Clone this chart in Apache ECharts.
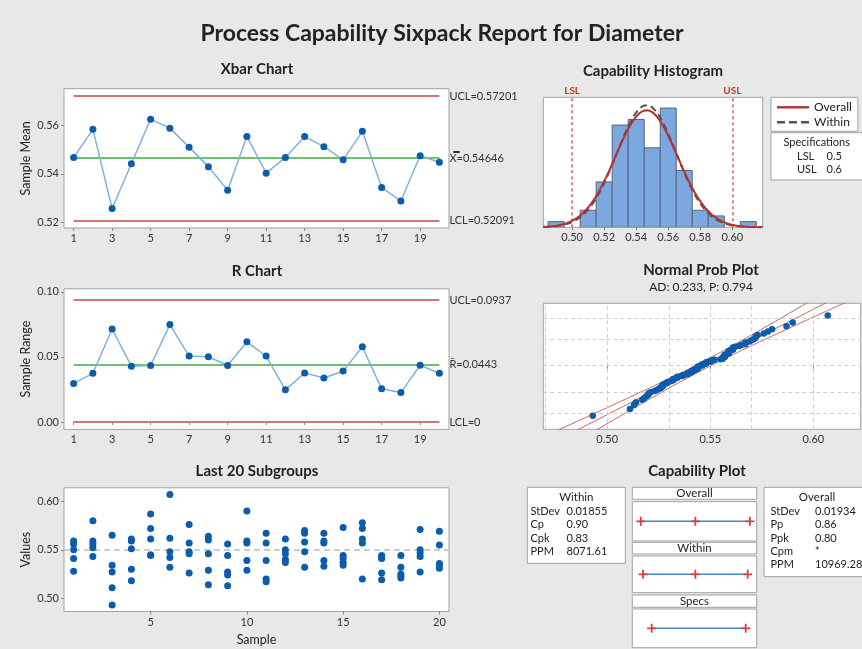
<!DOCTYPE html>
<html><head><meta charset="utf-8">
<script src="https://cdn.jsdelivr.net/npm/echarts@6/dist/echarts.min.js"></script>
<style>html,body{margin:0;padding:0;background:#e8e8e8}#c{width:862px;height:649px}</style>
</head><body><div id="c"></div>
<script>
// ---------- data ----------
const sampleIds = [1,2,3,4,5,6,7,8,9,10,11,12,13,14,15,16,17,18,19,20];
const sampleMeans = [0.5467,0.5583,0.5258,0.5442,0.5625,0.5588,0.5510,0.5430,0.5333,0.5554,0.5403,0.5467,0.5554,0.5512,0.5458,0.5575,0.5344,0.5289,0.5475,0.5448];
const sampleRanges = [0.0296,0.0374,0.0714,0.0429,0.0434,0.0748,0.0506,0.0501,0.0434,0.0616,0.0506,0.0247,0.0377,0.0338,0.0392,0.0577,0.0255,0.0226,0.0436,0.0374];
const xbarLimits = [0.57201, 0.54646, 0.52091];   // UCL, centre, LCL
const xbarLimitLabels = ['UCL=0.57201', 'X\u033F=0.54646', 'LCL=0.52091'];
const rLimits = [0.0937, 0.0443, 0];
const rLimitLabels = ['UCL=0.0937', 'R\u0304=0.0443', 'LCL=0'];
const subgroupValues = [
  [0.559,0.556,0.550,0.541,0.528],
  [0.580,0.559,0.556,0.552,0.543],
  [0.565,0.534,0.527,0.511,0.493],
  [0.561,0.559,0.551,0.530,0.518],
  [0.587,0.572,0.561,0.545,0.544],
  [0.607,0.562,0.548,0.542,0.532],
  [0.576,0.557,0.548,0.546,0.526],
  [0.564,0.560,0.546,0.529,0.514],
  [0.556,0.544,0.527,0.524,0.513],
  [0.590,0.559,0.557,0.539,0.529],
  [0.567,0.557,0.539,0.520,0.517],
  [0.561,0.550,0.546,0.540,0.537],
  [0.570,0.567,0.558,0.548,0.532],
  [0.567,0.559,0.557,0.539,0.533],
  [0.573,0.544,0.541,0.537,0.534],
  [0.578,0.572,0.561,0.557,0.520],
  [0.544,0.542,0.541,0.526,0.519],
  [0.544,0.532,0.525,0.523,0.521],
  [0.571,0.550,0.547,0.543,0.527],
  [0.569,0.555,0.536,0.534,0.531]
];
const histBinCenters = [0.49,0.50,0.51,0.52,0.53,0.54,0.55,0.56,0.57,0.58,0.59,0.60,0.61];
const histCounts     = [1,   0,   3,   8,   18,  19,  14,  21,  10,  3,   2,   0,   1];
const histBinWidth = 0.01;
const specLimits = [0.5, 0.6];
const specLabels = ['LSL', 'USL'];
const processMean = 0.54646;
const withinStDev = 0.01855;
const overallStDev = 0.01934;
const withinRows = [['StDev','0.01855'],['Cp','0.90'],['Cpk','0.83'],['PPM','8071.61']];
const overallRows = [['StDev','0.01934'],['Pp','0.86'],['Ppk','0.80'],['Cpm','*'],['PPM','10969.28']];
const specRows = [['LSL','0.5'],['USL','0.6']];
const xbarTicks = [1,3,5,7,9,11,13,15,17,19];
const last20Ticks = [5,10,15,20];
const meanTicks = [0.52,0.54,0.56];
const rangeTicks = [0,0.05,0.10];
const valueTicks = [0.50,0.55,0.60];
const histTicks = [0.50,0.52,0.54,0.56,0.58,0.60];
const probTicks = [0.50,0.55,0.60];
const probGridX = [0.475,0.50,0.525,0.55,0.575,0.60];
const probGridPct = [1,10,50,90,99];
const adText = 'AD: 0.233, P: 0.794';

// ---------- helpers ----------
function invNorm(p){
  const a=[-3.969683028665376e+01,2.209460984245205e+02,-2.759285104469687e+02,1.383577518672690e+02,-3.066479806614716e+01,2.506628277459239e+00];
  const b=[-5.447609879822406e+01,1.615858368580409e+02,-1.556989798598866e+02,6.680131188771972e+01,-1.328068155288572e+01];
  const c=[-7.784894002430293e-03,-3.223964580411365e-01,-2.400758277161838e+00,-2.549732539343734e+00,4.374664141464968e+00,2.938163982698783e+00];
  const d=[7.784695709041462e-03,3.224671290700398e-01,2.445134137142996e+00,3.754408661907416e+00];
  const pl=0.02425; let q,r;
  if(p<pl){q=Math.sqrt(-2*Math.log(p));return (((((c[0]*q+c[1])*q+c[2])*q+c[3])*q+c[4])*q+c[5])/((((d[0]*q+d[1])*q+d[2])*q+d[3])*q+1);}
  if(p>1-pl){q=Math.sqrt(-2*Math.log(1-p));return -(((((c[0]*q+c[1])*q+c[2])*q+c[3])*q+c[4])*q+c[5])/((((d[0]*q+d[1])*q+d[2])*q+d[3])*q+1);}
  q=p-0.5;r=q*q;return (((((a[0]*r+a[1])*r+a[2])*r+a[3])*r+a[4])*r+a[5])*q/(((((b[0]*r+b[1])*r+b[2])*r+b[3])*r+b[4])*r+1);
}
const pdf=(x,m,s)=>Math.exp(-0.5*((x-m)/s)**2)/(s*Math.sqrt(2*Math.PI));

const FONT = 'Lato';
const BLUE_PT = '#0b5cab', BLUE_LN = '#82b1de', RED_LIM = '#d47474', GREEN = '#6dc26d';
const BORDER = '#a3a3a3';

// derived series
const xbarData = sampleIds.map((s,i)=>[s, sampleMeans[i]]);
const rData = sampleIds.map((s,i)=>[s, sampleRanges[i]]);
const scatterData = [];
subgroupValues.forEach((g,i)=>g.forEach(v=>scatterData.push([sampleIds[i], v])));
const allVals = subgroupValues.flat().sort((a,b)=>a-b);
const nObs = allVals.length;
const probPoints = allVals.map((v,i)=>[v, invNorm((i+1-0.3)/(nObs+0.4))]);
const nTotal = histCounts.reduce((a,b)=>a+b,0);
const histData = histBinCenters.map((c,i)=>[c, histCounts[i]]);
const curveOverall=[], curveWithin=[];
for(let x=0.482;x<=0.6195;x+=0.0008){
  curveOverall.push([x, nTotal*histBinWidth*pdf(x,processMean,overallStDev)]);
  curveWithin.push([x, nTotal*histBinWidth*pdf(x,processMean,withinStDev)]);
}
const fitC=[], fitL=[], fitU=[];
for(let z=-3.4;z<=3.4;z+=0.05){
  const x = processMean + z*overallStDev;
  const h = 1.96*overallStDev*Math.sqrt((1+z*z/2)/nObs);
  fitC.push([x,z]); fitL.push([x-h,z]); fitU.push([x+h,z]);
}

function limitLines(vals, labels){
  const cols=[RED_LIM, GREEN, RED_LIM];
  return {symbol:'none', silent:true,
    label:{show:true, position:'end', distance:10, color:'#333', fontSize:11, fontFamily:FONT},
    data: vals.map((v,i)=>[{coord:[1,v], lineStyle:{color:cols[i], width:2, type:'solid'}, label:{formatter:labels[i]}},{coord:[20,v]}])};
}

const axLabel = {fontSize:11, color:'#333', fontFamily:FONT};
const tick = {show:true, length:3, lineStyle:{color:'#888'}};
function vAxis(grid, min, max, ticks, fmt, extra){
  return Object.assign({type:'value', gridIndex:grid, min, max,
    axisLine:{show:false}, splitLine:{show:false},
    axisTick:Object.assign({customValues:ticks}, tick),
    axisLabel:Object.assign({customValues:ticks, formatter:fmt, margin:5}, axLabel)}, extra||{});
}
function hiddenAxis(grid,min,max){
  return {type:'value', gridIndex:grid, min, max, show:false, splitLine:{show:false}};
}
const gridBase = {show:true, borderColor:BORDER, borderWidth:1, backgroundColor:'#fff'};

const capMain = [
  [processMean-3*overallStDev, processMean, processMean+3*overallStDev],
  [processMean-3*withinStDev, processMean, processMean+3*withinStDev],
  specLimits
];
const plusPath = 'path://M4,0H6V4H10V6H6V10H4V6H0V4H4Z';

// graphics: capability plot headers & tables, spec box
const G = [];
function box(x,y,w,h){G.push({type:'rect', shape:{x,y,width:w,height:h}, style:{fill:'#fff', stroke:BORDER, lineWidth:1}, silent:true});}
function txt(x,y,t,align,size,weight){G.push({type:'text', x, y, style:{text:t, fill:'#222', font:(weight||'normal')+' '+(size||11)+'px '+FONT, textAlign:align||'left', textVerticalAlign:'middle'}, silent:true});}
[['Overall',487.3,12],['Within',542.3,11.7],['Specs',595,12.3]].forEach(h=>{box(632.3,h[1],124.4,h[2]);txt(694.5,h[1]+h[2]/2,h[0],'center',11.5);});
box(527.3,487.3,98,76); txt(576.3,497.3,'Within','center',11.5);
withinRows.forEach((r,i)=>{txt(530.5,511.2+i*13.4,r[0]);txt(566.5,511.2+i*13.4,r[1]);});
box(764,487.3,110,89.4); txt(817,497.3,'Overall','center',11.5);
overallRows.forEach((r,i)=>{txt(770.5,511.2+i*13.4,r[0]);txt(815,511.2+i*13.4,r[1]);});
box(771,132.7,95,47.3); txt(816.7,142.8,'Specifications','center',11);
specRows.forEach((r,i)=>{txt(797,156.5+i*12.6,r[0]);txt(826.5,156.5+i*12.6,r[1]);});

const titleStyle = (size,weight)=>({fontSize:size, fontWeight:weight||'bold', color:'#222', fontFamily:FONT});
const option = {
  backgroundColor:'#e8e8e8',
  animation:false,
  textStyle:{fontFamily:FONT},
  title:[
    {text:'Process Capability Sixpack Report for Diameter', left:442, top:22, textAlign:'center', padding:0, textStyle:titleStyle(23)},
    {text:'Xbar Chart', left:257, top:62, textAlign:'center', padding:0, textStyle:titleStyle(15)},
    {text:'R Chart', left:257, top:263.5, textAlign:'center', padding:0, textStyle:titleStyle(15)},
    {text:'Last 20 Subgroups', left:257, top:464, textAlign:'center', padding:0, textStyle:titleStyle(15)},
    {text:'Capability Histogram', left:653, top:63.5, textAlign:'center', padding:0, textStyle:titleStyle(15)},
    {text:'Normal Prob Plot', left:701, top:262.5, textAlign:'center', padding:0, textStyle:titleStyle(15)},
    {text:adText, left:701, top:281.5, textAlign:'center', padding:0, textStyle:titleStyle(12,'normal')},
    {text:'Capability Plot', left:697, top:464, textAlign:'center', padding:0, textStyle:titleStyle(15)}
  ],
  legend:{data:[
      {name:'Overall', icon:'path://M0,0H32V2.4H0Z'},
      {name:'Within', icon:'path://M0,0H8V2.4H0Z M12,0H20V2.4H12Z M24,0H32V2.4H24Z'}],
    left:771, top:97.3, orient:'vertical', padding:[4,6,3,6], itemGap:3,
    itemWidth:32, itemHeight:2.4, selectedMode:false, backgroundColor:'#fff', borderColor:BORDER, borderWidth:1,
    textStyle:{fontSize:12, color:'#222', fontFamily:FONT, lineHeight:12}},
  grid:[
    Object.assign({left:64, top:88.7, width:385, height:139.3}, gridBase),
    Object.assign({left:64, top:288.8, width:385, height:140.6}, gridBase),
    Object.assign({left:64, top:487.8, width:385, height:123.7}, gridBase),
    Object.assign({left:543.3, top:97.3, width:219.4, height:130}, gridBase),
    Object.assign({left:543.3, top:303.3, width:317.4, height:126}, gridBase),
    Object.assign({left:632.3, top:501.7, width:124.4, height:39.3}, gridBase),
    Object.assign({left:632.3, top:556, width:124.4, height:36.7}, gridBase),
    Object.assign({left:632.3, top:609, width:124.4, height:38.7}, gridBase)
  ],
  xAxis:[
    vAxis(0,0.5,20.5,xbarTicks,v=>String(v)),
    vAxis(1,0.5,20.5,xbarTicks,v=>String(v)),
    vAxis(2,0.5,20.5,last20Ticks,v=>String(v),{name:'Sample', nameLocation:'middle', nameGap:22, nameTextStyle:{fontSize:12.5, color:'#222', fontFamily:FONT}}),
    vAxis(3,0.482,0.619,histTicks,v=>v.toFixed(2)),
    vAxis(4,0.469,0.623,probTicks,v=>v.toFixed(2)),
    hiddenAxis(5,0.4794,0.6117), hiddenAxis(6,0.4794,0.6117), hiddenAxis(7,0.4794,0.6117)
  ],
  yAxis:[
    vAxis(0,0.5178,0.575,meanTicks,v=>v.toFixed(2),{name:'Sample Mean', nameLocation:'middle', nameGap:32, nameTextStyle:{fontSize:12.5, color:'#222', fontFamily:FONT}}),
    vAxis(1,-0.0057,0.1023,rangeTicks,v=>v.toFixed(2),{name:'Sample Range', nameLocation:'middle', nameGap:32, nameTextStyle:{fontSize:12.5, color:'#222', fontFamily:FONT}}),
    vAxis(2,0.4864,0.6139,valueTicks,v=>v.toFixed(2),{name:'Values', nameLocation:'middle', nameGap:32, nameTextStyle:{fontSize:12.5, color:'#222', fontFamily:FONT}}),
    hiddenAxis(3,0,22.9),
    hiddenAxis(4,-3.12,3.06),
    hiddenAxis(5,0,1), hiddenAxis(6,0,1), hiddenAxis(7,0,1)
  ],
  series:[
    {type:'line', xAxisIndex:0, yAxisIndex:0, data:xbarData, symbol:'circle', symbolSize:7,
      itemStyle:{color:BLUE_PT}, lineStyle:{color:BLUE_LN, width:1.5}, z:5, markLine:limitLines(xbarLimits, xbarLimitLabels)},
    {type:'line', xAxisIndex:1, yAxisIndex:1, data:rData, symbol:'circle', symbolSize:7,
      itemStyle:{color:BLUE_PT}, lineStyle:{color:BLUE_LN, width:1.5}, z:5, markLine:limitLines(rLimits, rLimitLabels)},
    {type:'scatter', xAxisIndex:2, yAxisIndex:2, data:scatterData, symbolSize:7, itemStyle:{color:BLUE_PT, opacity:1}, z:5,
      markLine:{symbol:'none', silent:true, label:{show:false}, lineStyle:{color:'#bdbdbd', type:[6,4], width:1.5},
        data:[{yAxis:processMean}]}},
    {type:'custom', xAxisIndex:3, yAxisIndex:3, data:histData, clip:true,
      renderItem:(params, api)=>{
        const c=api.value(0), n=api.value(1);
        if(!n) return null;
        const p0=api.coord([c-histBinWidth/2, n]), p1=api.coord([c+histBinWidth/2, 0]);
        return {type:'rect', shape:{x:p0[0], y:p0[1], width:p1[0]-p0[0], height:p1[1]-p0[1]},
          style:{fill:'#7ba8df', stroke:'#56657c', lineWidth:1}};
      },
      markLine:{symbol:'none', silent:true,
        label:{show:true, position:'end', distance:2, color:'#c0392b', fontSize:10, fontWeight:'bold', fontFamily:FONT},
        lineStyle:{color:'#e05555', type:[3,3], width:1.5},
        data:specLimits.map((v,i)=>({xAxis:v, label:{formatter:specLabels[i]}}))}},
    {name:'Within', type:'line', xAxisIndex:3, yAxisIndex:3, data:curveWithin, symbol:'none', smooth:false,
      lineStyle:{color:'#555', width:2, type:[7,4]}, itemStyle:{color:'#555'}, z:6},
    {name:'Overall', type:'line', xAxisIndex:3, yAxisIndex:3, data:curveOverall, symbol:'none',
      lineStyle:{color:'#b8302e', width:2}, itemStyle:{color:'#b8302e'}, z:7},
    {type:'line', xAxisIndex:4, yAxisIndex:4, data:fitC, symbol:'none', lineStyle:{color:'#c86262', width:1}, z:3,
      markLine:{symbol:'none', silent:true, label:{show:false}, lineStyle:{color:'#cfcfcf', type:[4,3], width:1},
        data:probGridX.map(v=>({xAxis:v})).concat(probGridPct.map(p=>({yAxis:invNorm(p/100)})))}},
    {type:'line', xAxisIndex:4, yAxisIndex:4, data:fitL, symbol:'none', lineStyle:{color:'#c86262', width:1}, z:3},
    {type:'line', xAxisIndex:4, yAxisIndex:4, data:fitU, symbol:'none', lineStyle:{color:'#c86262', width:1}, z:3},
    {type:'scatter', xAxisIndex:4, yAxisIndex:4, data:probPoints, symbolSize:6.5, itemStyle:{color:BLUE_PT, opacity:1}, z:5},
    ...capMain.map((arr,k)=>({type:'line', xAxisIndex:5+k, yAxisIndex:5+k, data:arr.map(v=>[v,0.5]),
      symbol:plusPath, symbolSize:9, itemStyle:{color:'#d84040'}, lineStyle:{color:'#4d82c8', width:1.5}}))
  ],
  graphic:G
};
const chart = echarts.init(document.getElementById('c'), null, {renderer:'canvas'});
chart.setOption(option);
</script></body></html>
